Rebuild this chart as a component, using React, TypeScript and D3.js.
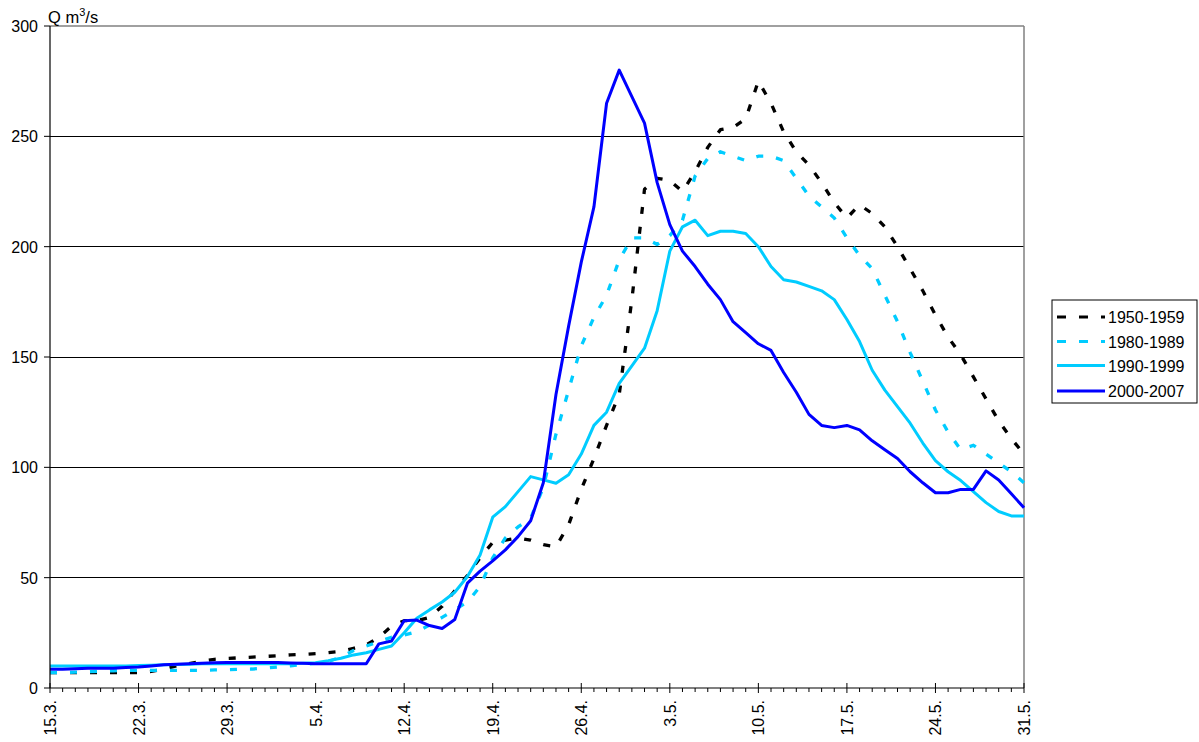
import React from "react";
import * as d3 from "d3";

const tickLabels = ["15.3.", "22.3.", "29.3.", "5.4.", "12.4.", "19.4.", "26.4.", "3.5.", "10.5.", "17.5.", "24.5.", "31.5."];
const yTicks = [0, 50, 100, 150, 200, 250, 300];
const seriesNames = ["1950-1959", "1980-1989", "1990-1999", "2000-2007"];

const s1950 = [7, 7, 7, 7, 7, 7, 7, 7, 7.5,
  8.5, 10, 11, 12.2, 13, 13.4, 13.7, 14, 14.3, 14.6, 15, 15.2, 15.6, 16, 16.6, 18, 19.5, 23, 28, 30.5, 30.5, 32, 37, 44, 51, 59, 66, 67, 68, 67, 65, 64, 74, 90, 104, 119, 133, 176, 226, 231, 230, 225, 234, 245, 253, 254, 258, 275, 265, 252, 243, 237, 229, 220, 213, 219, 215, 209, 200, 190, 180, 169, 159, 151, 141, 131, 121, 113, 106];
const s1980 = [7, 7, 7.2, 7.4, 7.6, 7.8, 8, 8, 8, 8, 8, 8, 8, 8.2, 8.3, 8.5, 8.6, 9, 9.5, 10, 10.7, 11.2, 12, 14, 17, 19, 21, 23, 24, 25.5, 28.5, 32, 35.5, 39, 46, 59, 68, 73, 77, 91, 115, 135, 155, 168, 178, 194, 204, 204, 201, 205, 212, 232, 240, 243, 241, 239, 241, 241, 239, 231, 223, 218, 213, 204, 196, 190, 178, 166, 152, 139, 126, 116, 108, 110, 106, 102, 98, 93];
const s1990 = [10, 10, 10, 10, 10, 10, 10, 10.2, 10.3, 10.5, 10.6, 10.8, 11, 11, 11, 11, 11, 11, 11, 11, 11.2, 11.5, 12.4, 13.5, 15, 16, 17.5, 19, 25, 31.6, 35.4, 39, 43.4, 50.5, 60.3, 77.4, 82.2, 89, 95.8, 94.3, 92.8, 96.6, 106, 119, 125, 138, 146, 154, 171, 198, 209, 212, 205, 207, 207, 206, 200, 191, 185, 184, 182, 180, 176, 167, 157, 144, 135, 127.5, 120, 111, 103, 98, 94, 89, 84, 80, 78, 78];
const s2000 = [8.5, 8.5, 8.7, 9, 9, 9, 9.3, 9.5, 10, 10.5, 10.8, 11, 11.2, 11.4, 11.5, 11.5, 11.5, 11.5, 11.5, 11.3, 11.2, 11, 11, 11, 11, 11, 20, 21.3, 30.5, 30.8, 28.3, 27, 31, 47.5, 53, 57.6, 62.6, 68.6, 75.8, 93, 133, 164, 193, 218, 265, 280, 268, 256, 229, 210, 198, 191, 183, 176, 166, 161, 156, 153, 143, 134, 124, 119, 118, 119, 117, 112, 108, 104, 98, 93, 88.5, 88.5, 90, 90, 98.4, 94.3, 88, 81.7];

const seriesData = [s1950, s1980, s1990, s2000];
const colors = ["#000000", "#00CCFF", "#00CCFF", "#0000FF"];
const dashes = ["7 13", "7 13", null, null];

const W = 1199, H = 742;
const L = 50, R = 1024, T = 26, B = 688;
const FONT = "Liberation Sans, Arial, sans-serif";

export default function App() {
  const n = s1950.length;
  const x = d3.scaleLinear().domain([0, n - 1]).range([L, R]);
  const y = d3.scaleLinear().domain([0, 300]).range([B, T]);
  const line = d3.line<number>().x((_, i) => x(i)).y((d) => y(d));
  const days = d3.range(n);

  return (
    <svg width={W} height={H} style={{ position: "absolute", left: 0, top: 0, background: "#fff" }} fontFamily={FONT}>
      <rect x={0} y={0} width={W} height={H} fill="#fff" />
      {yTicks.filter((t) => t > 0 && t < 300).map((t) => (
        <line key={t} x1={L} x2={R} y1={y(t)} y2={y(t)} stroke="#000" strokeWidth={1} shapeRendering="crispEdges" />
      ))}
      <line x1={L} x2={R} y1={y(300)} y2={y(300)} stroke="#808080" strokeWidth={1.5} />
      <line x1={R} x2={R} y1={T} y2={B} stroke="#808080" strokeWidth={1.5} />
      {seriesData.map((s, k) => (
        <path key={k} d={line(s) || ""} fill="none" stroke={colors[k]} strokeWidth={dashes[k] ? 3.3 : 3}
          strokeDasharray={dashes[k] || undefined} strokeLinejoin="round" />
      ))}
      <line x1={L} x2={L} y1={T} y2={B} stroke="#000" strokeWidth={1.2} />
      <line x1={L} x2={R} y1={B} y2={B} stroke="#000" strokeWidth={1.2} />
      {yTicks.map((t) => (
        <g key={t}>
          <line x1={L - 6} x2={L} y1={y(t)} y2={y(t)} stroke="#000" strokeWidth={1} />
          <text x={38} y={y(t) + 6} textAnchor="end" fontSize={16} fill="#000">{t}</text>
        </g>
      ))}
      {days.map((i) => (
        i % 7 === 0 ? (
          <line key={i} x1={x(i)} x2={x(i)} y1={B - 5} y2={B + 5} stroke="#000" strokeWidth={1} />
        ) : (
          <line key={i} x1={x(i)} x2={x(i)} y1={B} y2={B + 4} stroke="#000" strokeWidth={1} />
        )
      ))}
      {tickLabels.map((lab, j) => (
        <text key={lab} transform={`translate(${x(j * 7) + 6},700) rotate(-90)`} textAnchor="end" fontSize={16} fill="#000">{lab}</text>
      ))}
      <text x={48} y={23} fontSize={16.5} fill="#000">Q m<tspan dy={-7} fontSize={11}>3</tspan><tspan dy={7}>/s</tspan></text>
      <rect x={1052} y={300} width={145} height={103} fill="#fff" stroke="#000" strokeWidth={1} />
      {seriesNames.map((nm, k) => {
        const ly = [317, 341.5, 365.5, 391][k];
        return (
          <g key={nm}>
            <line x1={1057} x2={1105} y1={ly} y2={ly} stroke={colors[k]} strokeWidth={3}
              strokeDasharray={dashes[k] ? "9 13" : undefined} />
            <text x={1108} y={ly + 6} fontSize={16} fill="#000">{nm}</text>
          </g>
        );
      })}
    </svg>
  );
}
